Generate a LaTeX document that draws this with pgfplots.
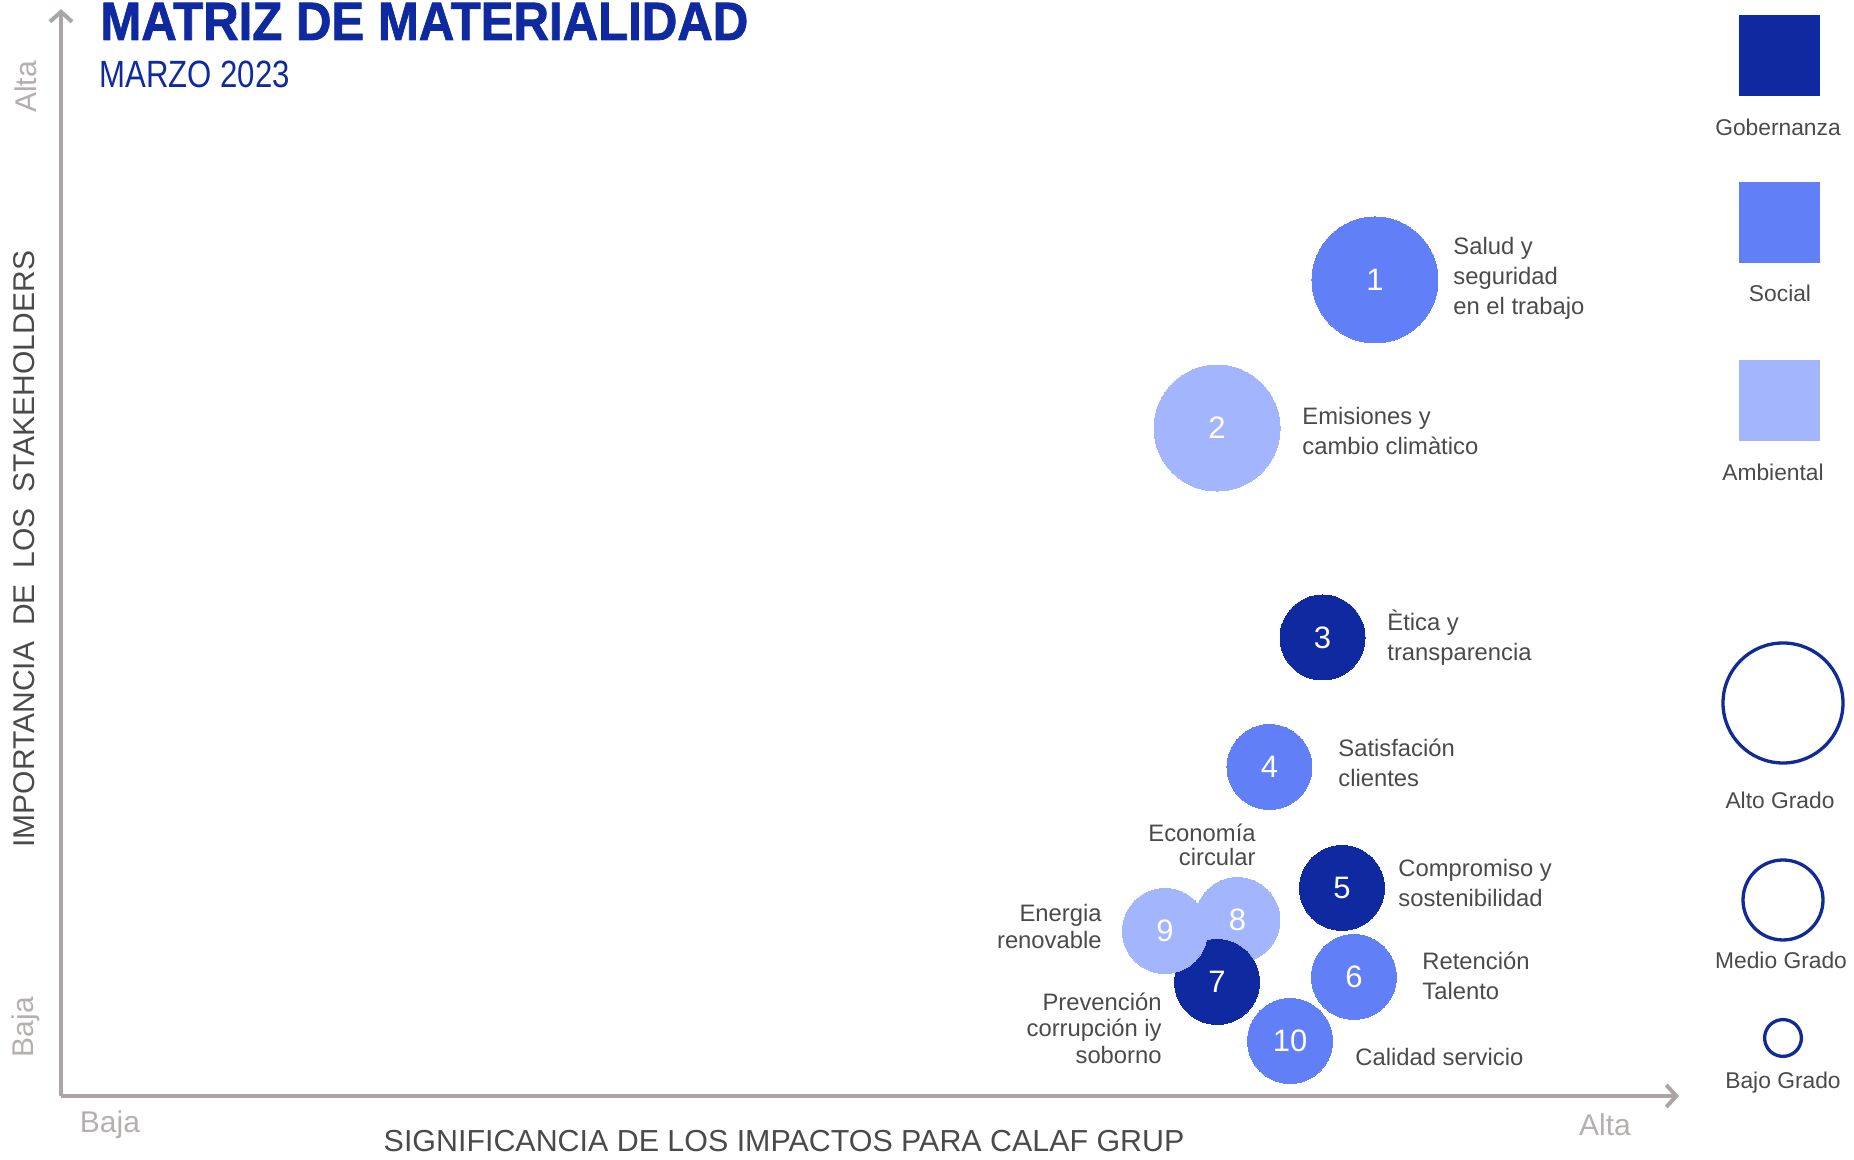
\documentclass[border=0pt]{standalone}
\usepackage{fontspec}
\setmainfont{Liberation Sans}
\newfontfamily\titlefont{Liberation Sans}[BoldFeatures={FakeBold=1.5}]
\usepackage{graphicx}
\usepackage{pgfplots}
\pgfplotsset{compat=1.18}
\usetikzlibrary{arrows.meta}

\definecolor{gob}{RGB}{15,42,160}
\definecolor{soc}{RGB}{97,128,248}
\definecolor{amb}{RGB}{163,181,253}
\definecolor{legblue}{RGB}{16,42,152}
\definecolor{axgray}{RGB}{172,165,165}
\definecolor{txt}{RGB}{74,74,74}
\definecolor{lgray}{RGB}{182,175,175}

% position helpers: pixel of the original -> pt, origin at the axis corner
\newcommand{\X}[1]{((#1)-61)*0.5pt}
\newcommand{\Y}[1]{(1096-(#1))*0.5pt}

\pgfplotsset{
  bub/.style={only marks, color=#1, mark=*, mark options={draw=#1, fill=#1, line width=0pt},
    nodes near coords, point meta=explicit symbolic,
    nodes near coords style={anchor=center, text=white, font=\fontsize{15.5}{15.5}\selectfont}},
}
\tikzset{lab/.style={inner sep=0pt, text=txt, font=\fontsize{11.9}{15}\selectfont}}

\begin{document}
\begin{tikzpicture}
\path[use as bounding box] (-30.5pt,-32pt) rectangle (896.5pt,548pt);
\clip (-30.5pt,-32pt) rectangle (896.5pt,548pt);
\begin{axis}[
  at={(0,0)}, anchor=south west,
  scale only axis, width=809pt, height=543.5pt,
  xmin=0, xmax=100, ymin=0, ymax=100,
  axis lines=left,
  axis line style={draw=axgray, line width=2pt, -{Straight Barb[length=5pt,width=11pt]}},
  xtick=\empty, ytick=\empty,
  xlabel={SIGNIFICANCIA DE LOS IMPACTOS PARA CALAF GRUP},
  xlabel style={at={(axis description cs:0.4469,-0.0414)}, anchor=center, inner sep=0pt,
    text=txt, font=\fontsize{15.2}{15.2}\selectfont},
  ylabel={IMPORTANCIA\hspace{8pt}DE\hspace{8pt}LOS\hspace{8pt}STAKEHOLDERS},
  ylabel style={at={(axis description cs:-0.0229,0.503)}, anchor=center, inner sep=0pt,
    text=txt, font=\fontsize{15}{15}\selectfont},
  clip=false,
]
% medio grado
\addplot[bub=amb, mark size=21.25pt] coordinates {(72.71,16.19) [8]};
\addplot[bub=soc, mark size=21.25pt] coordinates {(74.69,30.27) [4] (79.91,10.95) [6] (75.96,5.06) [10]};
\addplot[bub=gob, mark size=21.25pt] coordinates {(77.97,42.18) [3] (79.17,19.14) [5] (71.45,10.49) [7]};
\addplot[bub=amb, mark size=21.25pt] coordinates {(68.23,15.18) [9]};
% alto grado
\addplot[bub=soc, mark size=31.5pt] coordinates {(81.21,75.07) [1]};
\addplot[bub=amb, mark size=31.5pt] coordinates {(71.45,61.45) [2]};
\end{axis}

% title
\node[anchor=base west, inner sep=0pt, text=gob] at ({\X{100}},{\Y{40}})
  {\scalebox{0.91}[1]{\titlefont\fontsize{27}{27}\selectfont\bfseries MATRIZ DE MATERIALIDAD}};
\node[anchor=base west, inner sep=0pt, text=gob] at ({\X{99}},{\Y{88}})
  {\scalebox{0.82}[1]{\fontsize{19}{19}\selectfont MARZO 2023}};

% axis ends
\node[text=lgray, font=\fontsize{15}{15}\selectfont] at ({\X{110}},{\Y{1125}}) {Baja};
\node[text=lgray, font=\fontsize{15}{15}\selectfont] at ({\X{1605}},{\Y{1125}}) {Alta};
\node[text=lgray, font=\fontsize{15}{15}\selectfont, rotate=90] at ({\X{26}},{\Y{87}}) {Alta};
\node[text=lgray, font=\fontsize{15}{15}\selectfont, rotate=90] at ({\X{26}},{\Y{1027}}) {Baja};

% bubble labels
\node[lab, anchor=west, align=left] at ({\X{1453}},{\Y{278}}) {Salud y\\seguridad\\en el trabajo};
\node[lab, anchor=west, align=left] at ({\X{1302}},{\Y{431}}) {Emisiones y\\cambio climàtico};
\node[lab, anchor=west, align=left] at ({\X{1387}},{\Y{637.5}}) {Ètica y\\transparencia};
\node[lab, anchor=west, align=left] at ({\X{1338}},{\Y{763}}) {Satisfación\\clientes};
\node[lab, anchor=west, align=left] at ({\X{1398}},{\Y{883}}) {Compromiso y\\sostenibilidad};
\node[lab, anchor=west, align=left] at ({\X{1422}},{\Y{976}}) {Retención\\Talento};
\node[lab, anchor=west, align=left] at ({\X{1355}},{\Y{1057}}) {Calidad servicio};
\node[lab, anchor=east, align=right, font=\fontsize{11.9}{12}\selectfont] at ({\X{1256}},{\Y{845}}) {Economía\\circular};
\node[lab, anchor=east, align=right, font=\fontsize{11.9}{13.5}\selectfont] at ({\X{1102}},{\Y{927}}) {Energia\\renovable};
\node[lab, anchor=east, align=right, font=\fontsize{11.9}{13.3}\selectfont] at ({\X{1162}},{\Y{1028}}) {Prevención\\corrupción iy\\soborno};

% legend: categories
\node[fill=gob, minimum size=40.5pt, inner sep=0pt] at ({\X{1779.5}},{\Y{55.5}}) {};
\node[fill=soc, minimum size=40.5pt, inner sep=0pt] at ({\X{1779.5}},{\Y{222.5}}) {};
\node[fill=amb, minimum size=40.5pt, inner sep=0pt] at ({\X{1779.5}},{\Y{400.5}}) {};
\node[lab, font=\fontsize{11.4}{11.4}\selectfont] at ({\X{1778}},{\Y{127}}) {Gobernanza};
\node[lab, font=\fontsize{11.4}{11.4}\selectfont] at ({\X{1780}},{\Y{293}}) {Social};
\node[lab, font=\fontsize{11.4}{11.4}\selectfont] at ({\X{1773}},{\Y{472}}) {Ambiental};

% legend: sizes
\draw[legblue, line width=1.65pt] ({\X{1783}},{\Y{703}}) circle[radius=30pt];
\draw[legblue, line width=1.65pt] ({\X{1783}},{\Y{900}}) circle[radius=20pt];
\draw[legblue, line width=1.65pt] ({\X{1783}},{\Y{1038}}) circle[radius=9.2pt];
\node[lab, font=\fontsize{11.4}{11.4}\selectfont] at ({\X{1780}},{\Y{800}}) {Alto Grado};
\node[lab, font=\fontsize{11.4}{11.4}\selectfont] at ({\X{1781}},{\Y{960}}) {Medio Grado};
\node[lab, font=\fontsize{11.4}{11.4}\selectfont] at ({\X{1783}},{\Y{1083}}) {Bajo Grado};
\end{tikzpicture}
\end{document}
